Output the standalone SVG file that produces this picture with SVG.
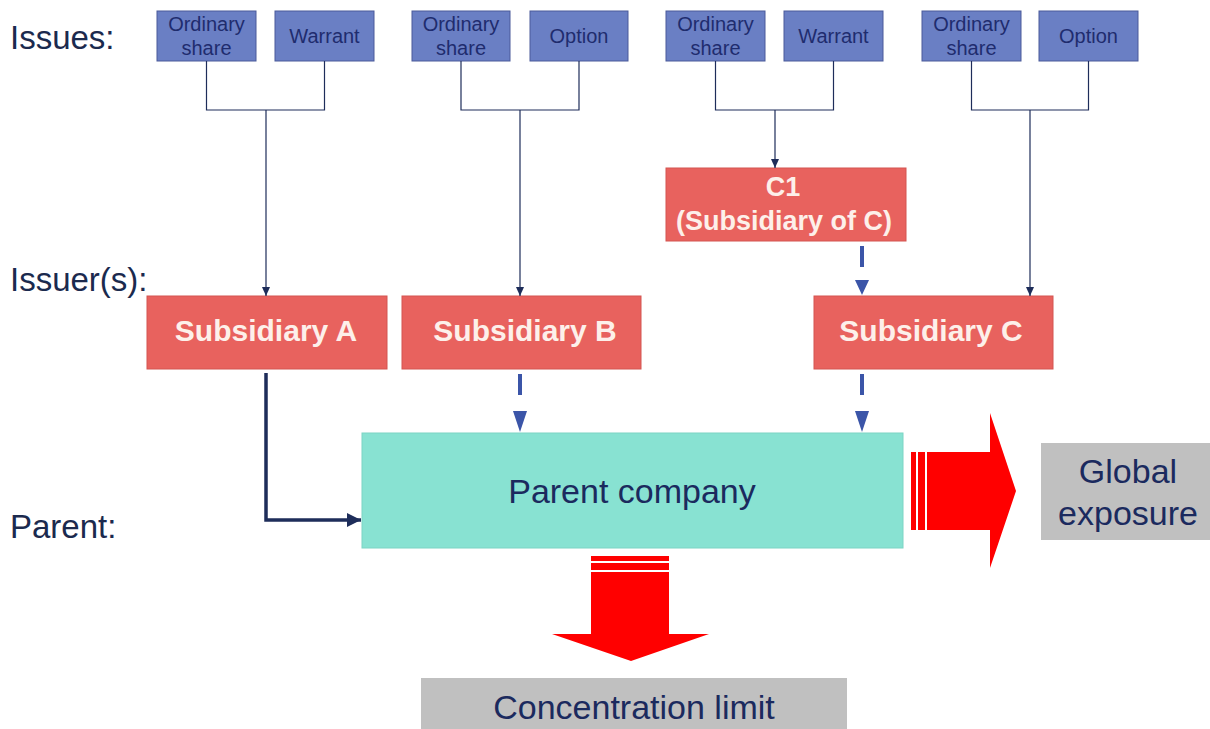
<svg xmlns="http://www.w3.org/2000/svg" width="1210" height="729" viewBox="0 0 1210 729">
<style>
.lbl{font-family:"Liberation Sans",Arial,sans-serif;font-size:33px;fill:#1b2a4e}
.iss{fill:#6a7fc4;stroke:#4a5a9a;stroke-width:1}
.isst{font-family:"Liberation Sans",Arial,sans-serif;font-size:20px;fill:#1f2c6e;text-anchor:middle}
.sub{fill:#e8625e;stroke:#d45450;stroke-width:1}
.subt{font-family:"Liberation Sans",Arial,sans-serif;font-size:30px;font-weight:bold;fill:#fdf0ea;text-anchor:middle}
.thin{fill:none;stroke:#1e2d5a;stroke-width:1.2}
.dash{fill:none;stroke:#3b55a8;stroke-width:4}
.gray{fill:#c0c0c0}
.grt{font-family:"Liberation Sans",Arial,sans-serif;font-size:34px;fill:#1b2a5e;text-anchor:middle}
</style>
<defs>
<marker id="ah" markerWidth="10" markerHeight="10" refX="9" refY="5" orient="auto" markerUnits="userSpaceOnUse">
<path d="M0,1 L9,5 L0,9 Z" fill="#1e2d5a"/>
</marker>
<marker id="ahb" markerWidth="16" markerHeight="16" refX="14" refY="8" orient="auto" markerUnits="userSpaceOnUse">
<path d="M0,1 L14,8 L0,15 Z" fill="#1e2d5a"/>
</marker>
</defs>
<rect width="1210" height="729" fill="#ffffff"/>
<g id="labels">
<text class="lbl" x="10" y="49">Issues:</text>
<text class="lbl" x="10" y="291">Issuer(s):</text>
<text class="lbl" x="10" y="538">Parent:</text>
</g>
<g id="issue-a1"><rect class="iss" x="157" y="11" width="99" height="50"/><text class="isst" x="206.5" y="31">Ordinary</text><text class="isst" x="206.5" y="55">share</text></g>
<g id="issue-a2"><rect class="iss" x="275" y="11" width="99" height="50"/><text class="isst" x="324.5" y="43">Warrant</text></g>
<g id="issue-b1"><rect class="iss" x="412" y="11" width="98" height="50"/><text class="isst" x="461" y="31">Ordinary</text><text class="isst" x="461" y="55">share</text></g>
<g id="issue-b2"><rect class="iss" x="530" y="11" width="98" height="50"/><text class="isst" x="579" y="43">Option</text></g>
<g id="issue-c1"><rect class="iss" x="666" y="11" width="99" height="50"/><text class="isst" x="715.5" y="31">Ordinary</text><text class="isst" x="715.5" y="55">share</text></g>
<g id="issue-c2"><rect class="iss" x="784" y="11" width="99" height="50"/><text class="isst" x="833.5" y="43">Warrant</text></g>
<g id="issue-d1"><rect class="iss" x="922" y="11" width="99" height="50"/><text class="isst" x="971.5" y="31">Ordinary</text><text class="isst" x="971.5" y="55">share</text></g>
<g id="issue-d2"><rect class="iss" x="1039" y="11" width="99" height="50"/><text class="isst" x="1088.5" y="43">Option</text></g>
<g id="sub-a"><rect class="sub" x="147" y="296" width="240" height="73"/><text class="subt" x="266" y="341">Subsidiary A</text></g>
<g id="sub-b"><rect class="sub" x="402" y="296" width="239" height="73"/><text class="subt" x="525" y="341">Subsidiary B</text></g>
<g id="sub-c1"><rect class="sub" x="666" y="168" width="240" height="73"/><text class="subt" x="783" y="196" style="font-size:27px">C1</text><text class="subt" x="784" y="230" style="font-size:27px">(Subsidiary of C)</text></g>
<g id="sub-c"><rect class="sub" x="814" y="296" width="239" height="73"/><text class="subt" x="931" y="341">Subsidiary C</text></g>
<g id="parent"><rect x="362" y="433" width="541" height="115" fill="#88e2d2" stroke="#7dd4c4"/><text x="632" y="503" style="font-family:'Liberation Sans',Arial,sans-serif;font-size:34px;fill:#1b2a5e;text-anchor:middle">Parent company</text></g>
<g id="global"><rect class="gray" x="1041" y="443" width="169" height="97"/><text class="grt" x="1128" y="483">Global</text><text class="grt" x="1128" y="525">exposure</text></g>
<g id="conc"><rect class="gray" x="421" y="678" width="426" height="51"/><text class="grt" x="634" y="719">Concentration limit</text></g>
<g id="connectors">
<path class="thin" d="M206.5,61 V110 H324.5 V61 M266,110 V296" marker-end="url(#ah)"/>
<path class="thin" d="M461,61 V110 H579 V61 M520,110 V296" marker-end="url(#ah)"/>
<path class="thin" d="M715.5,61 V110 H833.5 V61 M775,110 V168" marker-end="url(#ah)"/>
<path class="thin" d="M971.5,61 V110 H1088.5 V61 M1030,110 V296" marker-end="url(#ah)"/>
<path d="M266,373 V520 H361" fill="none" stroke="#1e2d5a" stroke-width="3.5" marker-end="url(#ahb)"/>
<line class="dash" x1="520" y1="374" x2="520" y2="395"/>
<path d="M513,411 H527 L520,432 Z" fill="#3b55a8"/>
<line class="dash" x1="862" y1="374" x2="862" y2="395"/>
<path d="M855,411 H869 L862,432 Z" fill="#3b55a8"/>
<line class="dash" x1="862" y1="246" x2="862" y2="267"/>
<path d="M855,280 H869 L862,295 Z" fill="#3b55a8"/>
</g>
<g id="arrow-right" fill="#ff0000">
<rect x="911" y="452" width="5" height="78"/>
<rect x="918" y="452" width="7" height="78"/>
<path d="M927,452 H990 V413 L1016,491 L990,568 V530 H927 Z"/>
</g>
<g id="arrow-down" fill="#ff0000">
<rect x="591" y="556" width="78" height="5"/>
<rect x="591" y="563" width="78" height="7"/>
<path d="M591,572 H669 V634 H709 L631,661 L552,634 H591 Z"/>
</g>
</svg>
